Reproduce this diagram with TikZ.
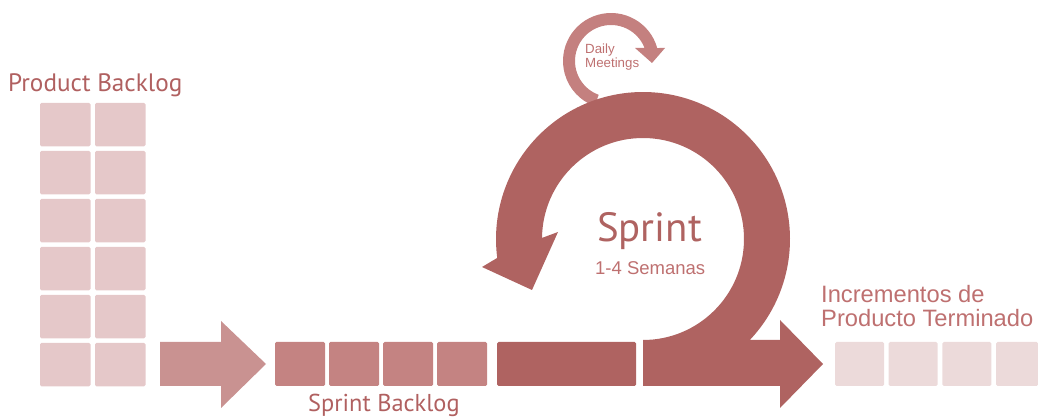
\documentclass[tikz,border=0pt]{standalone}
\usepackage{fontspec}
\usetikzlibrary{calc}
\newfontfamily\hum{PT Sans}
\newfontfamily\grot{Liberation Sans}
\definecolor{ringc}{RGB}{175,99,97}
\definecolor{dailyc}{RGB}{196,128,127}
\definecolor{flowc}{RGB}{201,146,145}
\definecolor{sbc}{RGB}{196,131,130}
\definecolor{pbc}{RGB}{229,200,201}
\definecolor{incc}{RGB}{236,218,218}
\definecolor{txtc}{RGB}{176,96,96}
\definecolor{txtl}{RGB}{190,112,112}
\begin{document}
\begin{tikzpicture}[x=1pt,y=1pt,
  cell/.style={rounded corners=1.5pt},
  lbl/.style={anchor=base west,inner sep=0pt},
  humtxt/.style={lbl,text=txtc,font=\hum\fontsize{#1}{#1}\selectfont},
  grotxt/.style={lbl,text=txtl,font=\grot\fontsize{#1}{#1}\selectfont}]
\useasboundingbox (0,0) rectangle (1038,419);

% Product backlog: two columns of six items
\foreach \c in {40,95}
  \foreach \i in {0,...,5}
    \fill[pbc,cell] (\c,{316-48*\i}) rectangle ++(50.5,-43.5);

% flow arrow into the sprint backlog
\fill[flowc] (160,77) -- (221,77) -- (221,98) -- (266,55) -- (221,11) -- (221,33) -- (160,33) -- cycle;

% Sprint backlog items
\foreach \i in {0,...,3}
  \fill[sbc,cell] ({275+54*\i},77) rectangle ++(50,-44);

% item in progress
\fill[ringc,cell] (497,77) rectangle (636,33);

% product increments
\foreach \i in {0,...,2}
  \fill[incc,cell] ({835+53.7*\i},77) rectangle ++(49,-44);
\fill[incc,cell] (996.1,77) rectangle (1038,33);

% daily meetings loop
\coordinate (D) at (611,358);
\fill[dailyc] ($(D)+(15.7:48)$) arc[start angle=15.7,end angle=250,radius=48]
  -- ($(D)+(250:36)$) arc[start angle=250,end angle=21.2,radius=36]
  -- (635,371) -- (652,356) -- (665,371) -- cycle;

% sprint loop with outgoing arrow
\coordinate (C) at (643,180);
\fill[ringc] (643,33) -- (780,33) -- (780,11) -- (823,55) -- (780,99) -- (780,79)
  -- (749.8,79) arc[start angle=-43.4,end angle=187.4,radius=147]
  -- (482,152) -- (532,129) -- (558,187)
  -- ($(C)+(179.4:101)$) arc[start angle=179.4,end angle=-90,radius=101]
  -- cycle;

% labels
\node[humtxt=25.2] (pb) at (8,327) {Product Backlog};
\node[humtxt=24.4] (sb) at (308,7) {Sprint Backlog};
\node[humtxt=40.8,text=ringc] (sp) at (597,177) {Sprint};
\node[grotxt=18.5] (wk) at (595,144) {1-4 Semanas};
\node[grotxt=13.3] (dm1) at (585,365) {Daily};
\node[grotxt=13.3] (dm2) at (585,351) {Meetings};
\node[grotxt=23.7] (inc1) at (821,116) {Incrementos de};
\node[grotxt=23.7] (inc2) at (821,92) {Producto Terminado};
\end{tikzpicture}
\end{document}
